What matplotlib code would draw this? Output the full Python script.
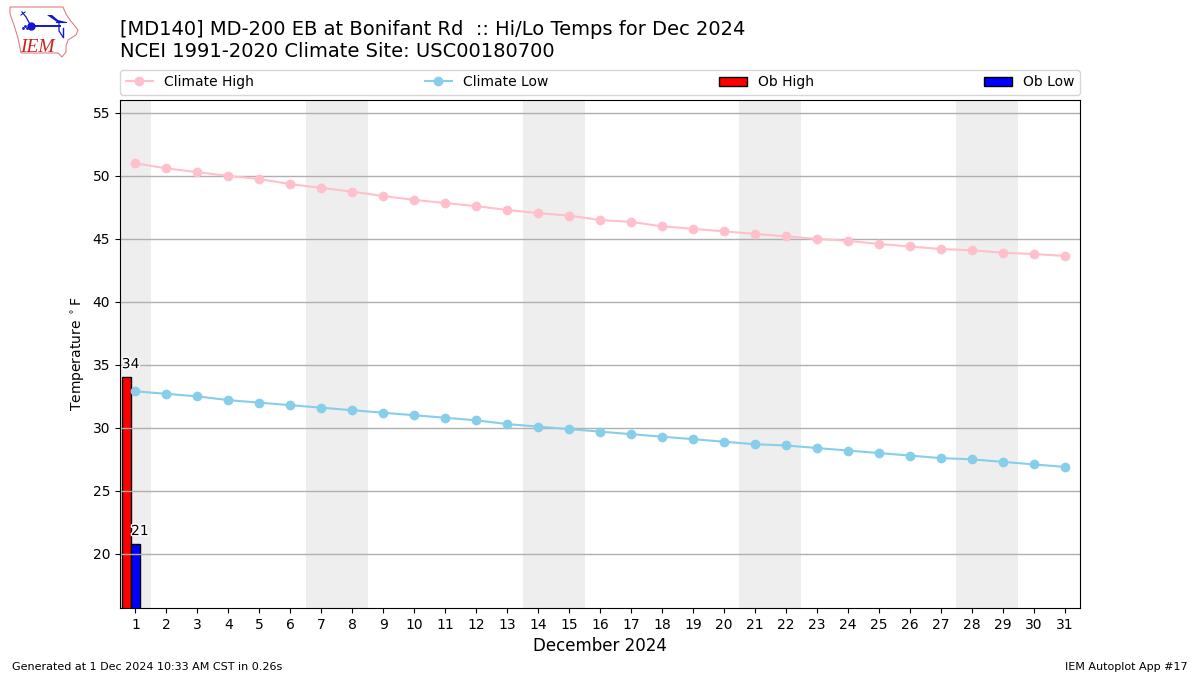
import matplotlib
matplotlib.use("Agg")
import matplotlib.pyplot as plt
import matplotlib.patheffects as pe
from matplotlib.patches import Polygon

days = list(range(1, 32))
climate_high = [51.0, 50.6, 50.3, 50.0, 49.75, 49.35, 49.05, 48.75, 48.4, 48.1, 47.85, 47.6, 47.3, 47.05, 46.85, 46.5,
                46.35, 46.0, 45.8, 45.6, 45.4, 45.2, 45.0, 44.85, 44.6, 44.4, 44.2, 44.1, 43.9, 43.8, 43.65]
climate_low = [32.9, 32.7, 32.5, 32.2, 32.0, 31.8, 31.6, 31.4, 31.2, 31.0, 30.8, 30.6, 30.3, 30.1, 29.9, 29.7,
               29.5, 29.3, 29.1, 28.9, 28.7, 28.6, 28.4, 28.2, 28.0, 27.8, 27.6, 27.5, 27.3, 27.1, 26.9]
ob_days = [1]
ob_high = [34]
ob_low = [20.8]
weekends = [(0.5, 1.5), (6.5, 8.5), (13.5, 15.5), (20.5, 22.5), (27.5, 29.5)]

fig = plt.figure(figsize=(12, 6.75), dpi=100)
ax = fig.add_axes([0.1, 0.0993, 0.8, 0.7526])

for start, end in weekends:
    ax.axvspan(start, end, color="#eeeeee", lw=0, zorder=1)

ax.plot(days, climate_high, marker="o", color="pink", label="Climate High", zorder=3)
ax.plot(days, climate_low, marker="o", color="skyblue", label="Climate Low", zorder=3)

ax.bar([d - 0.43 for d in ob_days], ob_high, width=0.3, bottom=0, align="edge", color="r", edgecolor="k",
       label="Ob High", zorder=1.2)
ax.bar([d - 0.13 for d in ob_days], ob_low, width=0.29, bottom=0, align="edge", color="b", edgecolor="k",
       label="Ob Low", zorder=1.2)

halo = [pe.withStroke(linewidth=2, foreground="white")]
for d, v in zip(ob_days, ob_high):
    ax.text(d - 0.16, v + 0.5, f"{v:.0f}", ha="center", va="bottom", path_effects=halo, zorder=4)
for d, v in zip(ob_days, ob_low):
    ax.text(d + 0.14, v + 0.45, f"{v:.0f}", ha="center", va="bottom", path_effects=halo, zorder=4)

ax.set_xlim(0.5, 31.5)
ax.set_ylim(15.7, 56.03)
ax.set_xticks(days)
ax.set_yticks([20, 25, 30, 35, 40, 45, 50, 55])
ax.yaxis.grid(True, color="#b0b0b0", lw=1)
ax.set_ylabel(r"Temperature $^\circ$F")
ax.set_xlabel("December 2024", fontsize=12)

fig.legend(*ax.get_legend_handles_labels(), loc="lower left", bbox_to_anchor=(0.1, 0.8595, 0.8, 0.038),
           ncol=4, mode="expand", borderaxespad=0, fontsize=10)

fig.text(0.1, 0.91, "[MD140] MD-200 EB at Bonifant Rd  :: Hi/Lo Temps for Dec 2024\nNCEI 1991-2020 Climate Site: USC00180700",
         fontsize=14, ha="left", va="bottom", linespacing=1.18)
fig.text(0.01, 0.0045, "Generated at 1 Dec 2024 10:33 AM CST in 0.26s", fontsize=8, ha="left", va="bottom")
fig.text(0.99, 0.0045, "IEM Autoplot App #17", fontsize=8, ha="right", va="bottom")

# logo, in pixels of the picture
logo = fig.add_axes([0, 0, 1, 1], zorder=-1)
logo.set_xlim(0, 1200)
logo.set_ylim(675, 0)
logo.axis("off")
logo.add_patch(Polygon([(10, 7), (63, 7), (66, 14), (70, 20), (78, 30), (76, 35), (68, 40), (66, 46), (66, 52),
                        (62, 57), (58, 53), (21, 53), (18, 38), (14, 25), (10, 14)],
                       closed=True, fill=False, ec="#e08080", lw=0.8))
blue = "#1515d0"
logo.plot([31, 60], [26, 26], color=blue, lw=1.4)
logo.plot([31], [26], marker="o", ms=5, color=blue)
logo.plot([22, 26, 31], [12, 17, 26], color=blue, lw=0.9)
logo.plot([21, 25], [15, 12], color=blue, lw=0.8)
logo.fill([47, 52, 58, 66, 57], [15, 15, 20, 22, 22], color=blue, lw=0)
logo.plot([56, 66], [22, 22], color=blue, lw=0.8)
logo.plot([59, 59, 63], [22, 31, 37], color=blue, lw=0.9)
logo.plot([63, 63], [28, 37], color=blue, lw=1.0)
logo.plot([23, 25, 27], [28, 26, 28], ls="none", marker=".", ms=2, color=blue)
logo.text(20.5, 52, "IEM", family="Liberation Serif", style="italic", fontsize=14, color="#cc2222", ha="left", va="baseline")

fig.savefig("out.png", dpi=100)
